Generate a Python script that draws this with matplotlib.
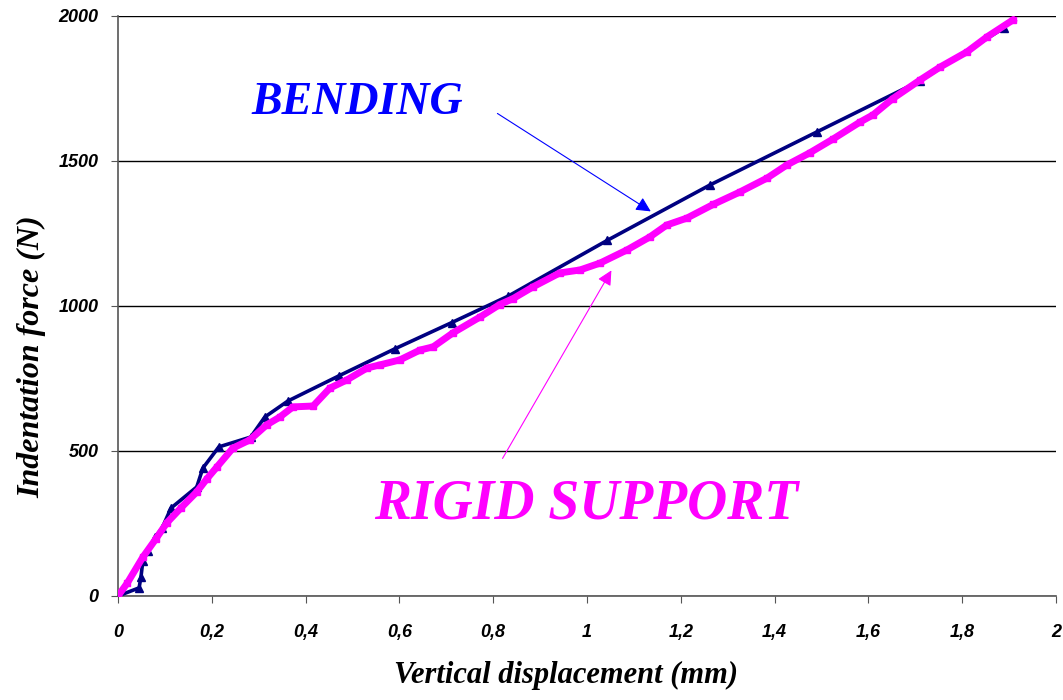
import matplotlib
matplotlib.use('Agg')
import matplotlib.pyplot as plt
from matplotlib.ticker import FuncFormatter, MultipleLocator

# bending test (navy, triangles)
bend_x = [0, 0.045, 0.049, 0.053, 0.064, 0.079, 0.094, 0.113, 0.168, 0.181,
          0.215, 0.283, 0.313, 0.362, 0.471, 0.59, 0.712, 0.832, 1.043,
          1.262, 1.49, 1.71, 1.889]
bend_y = [0, 28, 66, 121, 155, 203, 234, 303, 376, 441,
          514, 548, 617, 672, 759, 852, 943, 1034, 1226,
          1417, 1600, 1776, 1959]

# rigid support test (magenta, squares)
rigid_x = [0, 0.02, 0.053, 0.08, 0.104, 0.135, 0.168, 0.19, 0.211, 0.245,
           0.281, 0.317, 0.345, 0.373, 0.416, 0.452, 0.488, 0.531, 0.559, 0.601,
           0.644, 0.672, 0.714, 0.772, 0.814, 0.842, 0.885, 0.942, 0.985, 1.028,
           1.085, 1.134, 1.17, 1.213, 1.269, 1.326, 1.384, 1.426, 1.475, 1.524,
           1.582, 1.61, 1.652, 1.71, 1.753, 1.81, 1.853, 1.908]
rigid_y = [0, 45, 134, 195, 252, 305, 359, 405, 445, 510,
           538, 590, 617, 652, 655, 717, 745, 786, 797, 814,
           848, 859, 907, 962, 1005, 1025, 1066, 1114, 1124, 1148,
           1193, 1238, 1279, 1303, 1350, 1393, 1441, 1486, 1528, 1575,
           1634, 1659, 1715, 1779, 1824, 1876, 1928, 1986]

fig = plt.figure(figsize=(10.63, 7), dpi=100)
ax = fig.add_axes([0.111, 0.1486, 0.8824, 0.8286])

ax.plot(bend_x, bend_y, color='#000080', lw=2.6, marker='^', ms=6, zorder=3)
ax.plot(rigid_x, rigid_y, color='#FF00FF', lw=5, marker='s', ms=4.5, zorder=4)

ax.set_xlim(0, 2)
ax.set_ylim(0, 2000)
ax.xaxis.set_major_locator(MultipleLocator(0.2))
ax.yaxis.set_major_locator(MultipleLocator(500))
ax.xaxis.set_major_formatter(FuncFormatter(lambda v, p: ('%g' % round(v, 1)).replace('.', ',')))

ax.grid(axis='y', color='black', lw=1)
ax.set_axisbelow(True)
for s in ['top', 'right']:
    ax.spines[s].set_visible(False)
for s in ['left', 'bottom']:
    ax.spines[s].set_color('#555555')
    ax.spines[s].set_linewidth(1.2)

tick_font = dict(family='Liberation Sans', weight='bold', style='italic', size=13)
ax.tick_params(axis='x', direction='out', length=5, pad=15, color='#555555')
ax.tick_params(axis='y', direction='out', length=5, pad=9, color='#555555')
for lab in ax.get_xticklabels() + ax.get_yticklabels():
    lab.set_fontproperties(matplotlib.font_manager.FontProperties(**tick_font))

label_font = dict(family='Liberation Serif', weight='bold', style='italic')
ax.set_xlabel('Vertical displacement (mm)', fontsize=22, **label_font)
ax.set_ylabel('Indentation force (N)', fontsize=23, **label_font)
ax.xaxis.set_label_coords(0.478, -0.112)
ax.yaxis.set_label_coords(-0.092, 0.412)
ax.yaxis.label.set_va('center')

ax.text(0.51, 1700, 'BENDING', color='#0000FF', fontsize=33, ha='center', va='center', **label_font)
ax.annotate('', xy=(1.141, 1321), xytext=(0.804, 1669),
            arrowprops=dict(arrowstyle='-|>', color='#0000FF', lw=0.8, mutation_scale=22))

ax.text(0.998, 314, 'RIGID SUPPORT', color='#FF00FF', fontsize=40, ha='center', va='center', **label_font)
ax.annotate('', xy=(1.055, 1131), xytext=(0.817, 466),
            arrowprops=dict(arrowstyle='-|>', color='#FF00FF', lw=0.8, mutation_scale=22))

fig.savefig('out.png', dpi=100)
